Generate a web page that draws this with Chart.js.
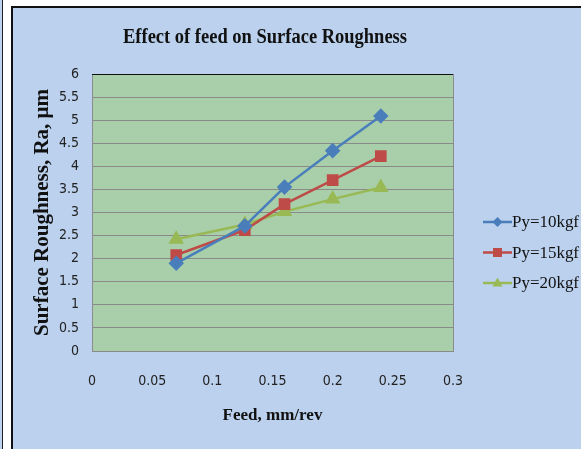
<!DOCTYPE html>
<html>
<head>
<meta charset="utf-8">
<script src="https://cdn.jsdelivr.net/npm/chart.js@4.4.1/dist/chart.umd.min.js"></script>
<style>
  body { margin: 0; background: #fff; width: 581px; height: 449px; overflow: hidden; position: relative; }
  .strip { position: absolute; left: 0; top: 0; width: 2px; height: 449px; background: #bcd2ee; border-right: 1px solid #222; }
  .frame { position: absolute; left: 11px; top: 6px; width: 570px; height: 443px; box-sizing: border-box;
           border-left: 2px solid #111; border-top: 2px solid #111; background: #bbd1ee; }
  canvas { display: block; }
</style>
</head>
<body>
<div class="strip"></div>
<div class="frame"><canvas id="chart" width="568" height="441"></canvas></div>
<script>
// Feed (mm/rev) vs surface roughness Ra (µm)
const feed = [0.07, 0.127, 0.16, 0.2, 0.24];
const ra10 = [1.90, 2.71, 3.55, 4.34, 5.09];
const ra15 = [2.08, 2.62, 3.18, 3.70, 4.22];
const ra20 = [2.42, 2.74, 3.02, 3.29, 3.54];
const seriesLabels = ['Py=10kgf', 'Py=15kgf', 'Py=20kgf'];
const xTicks = [0, 0.05, 0.1, 0.15, 0.2, 0.25, 0.3];
const yTicks = [0, 0.5, 1, 1.5, 2, 2.5, 3, 3.5, 4, 4.5, 5, 5.5, 6];

const serif = "'Liberation Serif', 'Times New Roman', serif";
const narrow = "'Liberation Sans Narrow', 'DejaVu Sans Condensed', sans-serif";

const toPoints = ys => feed.map((x, i) => ({ x: x, y: ys[i] }));

// draw text squeezed to a given width (the original uses condensed-looking type)
function squeezed(ctx, text, x, y, maxW) {
  const w = ctx.measureText(text).width;
  const sx = Math.min(1, maxW / w);
  ctx.save();
  ctx.translate(x, y);
  ctx.scale(sx, 1);
  ctx.fillText(text, 0, 0);
  ctx.restore();
}

// plot background + chart title + legend
const decor = {
  id: 'decor',
  beforeDraw(chart) {
    const { ctx, chartArea: a } = chart;
    ctx.save();
    ctx.fillStyle = '#a8cfa9';
    ctx.fillRect(a.left, a.top, a.right - a.left, a.bottom - a.top);
    ctx.strokeStyle = '#8c8c8c';
    ctx.lineWidth = 1;
    ctx.strokeRect(a.left + 0.5, a.top + 0.5, a.right - a.left, a.bottom - a.top);
    ctx.restore();
  },
  afterDraw(chart) {
    const { ctx } = chart;
    ctx.save();
    ctx.font = 'bold 21px ' + serif;
    ctx.fillStyle = '#111';
    ctx.textAlign = 'center';
    ctx.textBaseline = 'middle';
    squeezed(ctx, 'Effect of feed on Surface Roughness', 252, 30, 284);

    // legend
    ctx.font = '17px ' + serif;
    ctx.textAlign = 'left';
    chart.data.datasets.forEach((ds, i) => {
      const y = 214 + i * 30.5;
      ctx.strokeStyle = ds.borderColor;
      ctx.lineWidth = 2.5;
      ctx.beginPath();
      ctx.moveTo(470, y);
      ctx.lineTo(499, y);
      ctx.stroke();
      ctx.fillStyle = ds.backgroundColor;
      ctx.beginPath();
      if (ds.pointStyle === 'rectRot') {
        ctx.moveTo(484.5, y - 5); ctx.lineTo(489.5, y); ctx.lineTo(484.5, y + 5); ctx.lineTo(479.5, y);
      } else if (ds.pointStyle === 'rect') {
        ctx.rect(480, y - 4.5, 9, 9);
      } else {
        ctx.moveTo(484.5, y - 5.5); ctx.lineTo(489.5, y + 3.5); ctx.lineTo(479.5, y + 3.5);
      }
      ctx.closePath();
      ctx.fill();
      ctx.fillStyle = '#111';
      squeezed(ctx, ds.label, 499, y + 1, 67);
    });
    ctx.restore();
  }
};

new Chart(document.getElementById('chart'), {
  type: 'line',
  data: {
    datasets: [
      { label: seriesLabels[0], data: toPoints(ra10), borderColor: '#4a7ebb', backgroundColor: '#4a7ebb',
        pointStyle: 'rectRot', pointRadius: 6, borderWidth: 2.5 },
      { label: seriesLabels[1], data: toPoints(ra15), borderColor: '#be4b48', backgroundColor: '#be4b48',
        pointStyle: 'rect', pointRadius: 6.5, borderWidth: 2.5 },
      { label: seriesLabels[2], data: toPoints(ra20), borderColor: '#98b954', backgroundColor: '#98b954',
        pointStyle: 'triangle', pointRadius: 6.5, borderWidth: 2.5 }
    ]
  },
  options: {
    responsive: false,
    animation: false,
    layout: { padding: { top: 66, right: 128, left: 0, bottom: 0 } },
    plugins: { legend: { display: false }, title: { display: false }, tooltip: { enabled: false } },
    scales: {
      x: {
        type: 'linear', min: 0, max: 0.3,
        afterBuildTicks: s => { s.ticks = xTicks.map(v => ({ value: v })); },
        afterFit: s => { s.height = 98; },
        grid: { display: false, drawTicks: false },
        border: { display: false },
        ticks: { padding: 22, color: '#222', font: { family: narrow, size: 14 }, callback: v => String(v) },
        title: { display: true, text: 'Feed, mm/rev', color: '#111',
                 font: { family: serif, size: 17, weight: 'bold' }, padding: { top: 0, bottom: 23 } }
      },
      y: {
        min: 0, max: 6,
        afterBuildTicks: s => { s.ticks = yTicks.map(v => ({ value: v })); },
        afterFit: s => { s.width = 79; },
        grid: { drawTicks: false, color: ctx => ctx.tick && ctx.tick.value === 6 ? '#111' : '#8a8a8a', lineWidth: 1 },
        border: { display: false },
        ticks: { padding: 13, color: '#222', font: { family: narrow, size: 14 }, callback: v => String(v) },
        title: { display: true, text: 'Surface Roughness, Ra, μm', color: '#111',
                 font: { family: serif, size: 21, weight: 'bold' }, padding: { top: 17, bottom: 0 } }
      }
    }
  },
  plugins: [decor]
});
</script>
</body>
</html>
